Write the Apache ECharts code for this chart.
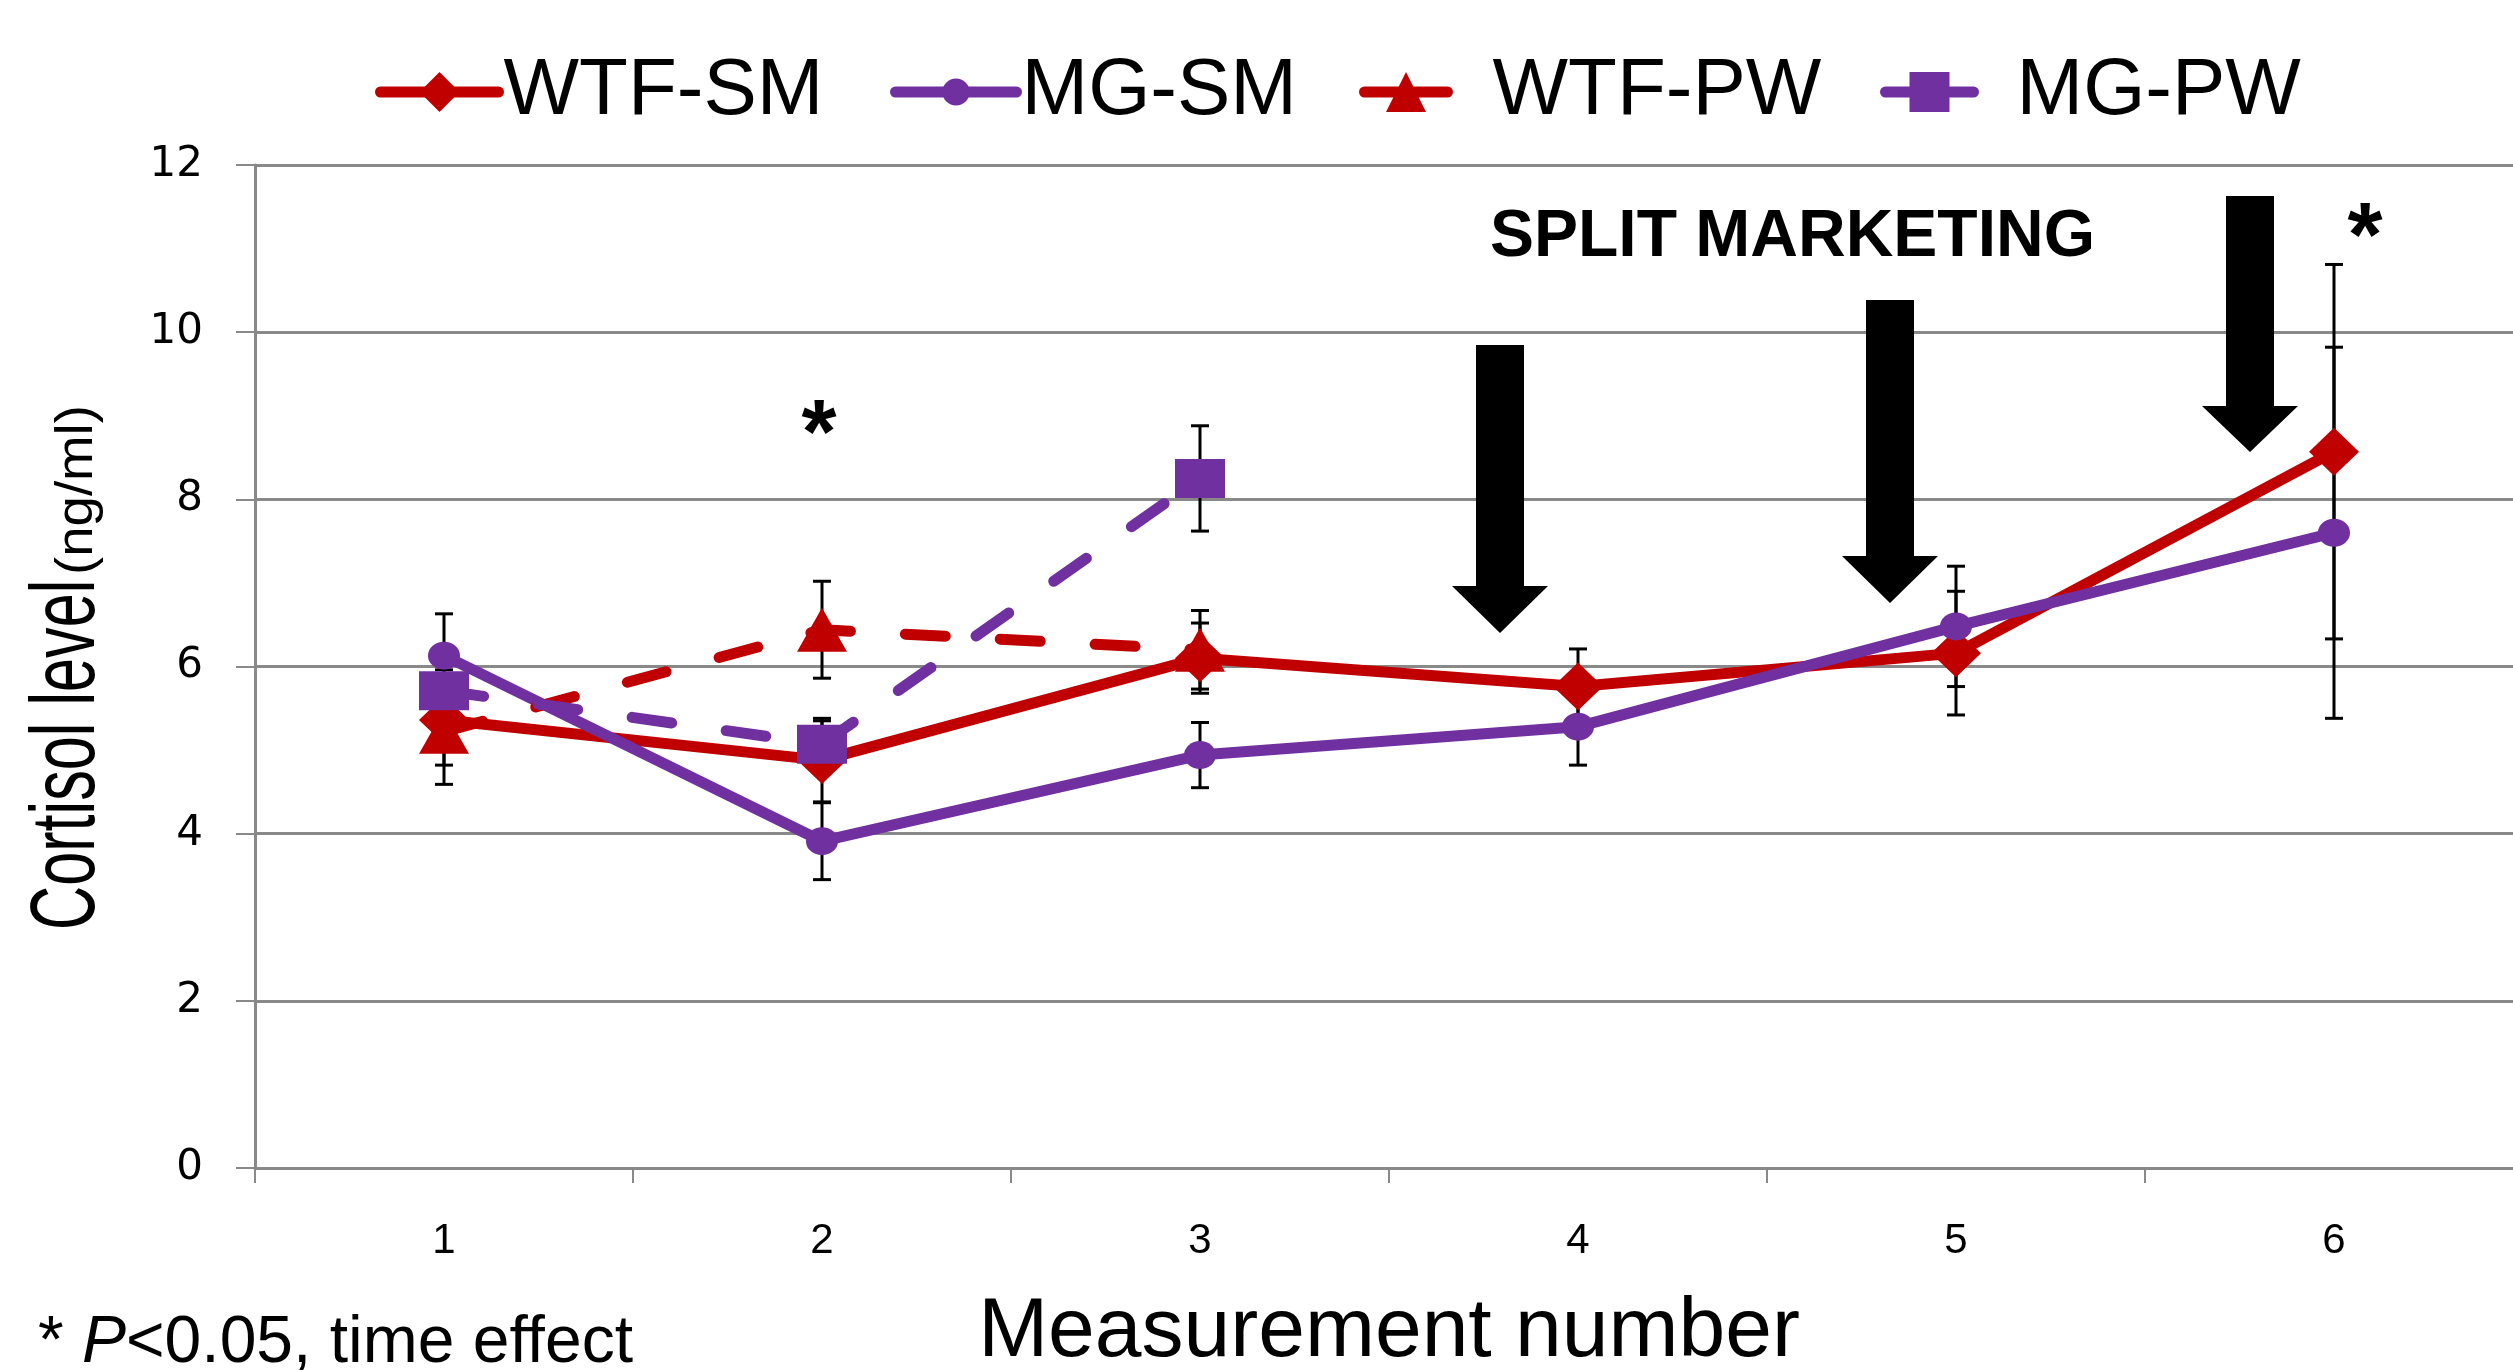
<!DOCTYPE html>
<html>
<head>
<meta charset="utf-8">
<script src="https://cdn.jsdelivr.net/npm/echarts@6/dist/echarts.min.js"></script>
<style>
html,body{margin:0;padding:0;background:#fff;}
#chart{width:2513px;height:1370px;}
</style>
</head>
<body>
<div id="chart"></div>
<script>
// ---- data ----
const categories = ['1', '2', '3', '4', '5', '6'];
const yTicks = [0, 2, 4, 6, 8, 10, 12];

const wtfSM = [5.36, 4.88, 6.10, 5.76, 6.16, 8.57];
const wtfSMErr = [0.54, 0.50, 0.42, 0.45, 0.74, 2.24];

const mgSM = [6.13, 3.91, 4.94, 5.28, 6.48, 7.60];
const mgSMErr = [0.50, 0.46, 0.39, 0.46, 0.72, 2.22];

const wtfPW = [5.22, 6.44, 6.20, null, null, null];
const wtfPWErr = [0.63, 0.58, 0.47, null, null, null];

const mgPW = [5.71, 5.07, 8.25, null, null, null];
const mgPWErr = [0.25, 0.28, 0.63, null, null, null];

const seriesNames = ['WTF-SM', 'MG-SM', 'WTF-PW', 'MG-PW'];
const xTitle = 'Measurement number';
const yTitle = ['Cortisol level', '(ng/ml)'];
const annotationText = 'SPLIT MARKETING';
const footnote = ['* ', 'P', '<0.05, time effect'];

// ---- styles ----
const RED = '#C00000';
const PURPLE = '#7030A0';
const GRID = '#898989';
const FONT = '"Liberation Sans", Arial, sans-serif';

function errData(mean, err) {
  const out = [];
  mean.forEach((m, i) => {
    if (m != null && err[i] != null) out.push([i, m - err[i], m + err[i]]);
  });
  return out;
}

function renderErr(params, api) {
  const x = api.value(0);
  const lo = api.coord([x, api.value(1)]);
  const hi = api.coord([x, api.value(2)]);
  const hw = 9;
  const st = { stroke: '#000', lineWidth: 3 };
  return {
    type: 'group',
    children: [
      { type: 'line', shape: { x1: lo[0], y1: lo[1], x2: hi[0], y2: hi[1] }, style: st },
      { type: 'line', shape: { x1: lo[0] - hw, y1: lo[1], x2: lo[0] + hw, y2: lo[1] }, style: st },
      { type: 'line', shape: { x1: hi[0] - hw, y1: hi[1], x2: hi[0] + hw, y2: hi[1] }, style: st }
    ]
  };
}

function errSeries(mean, err) {
  return {
    type: 'custom',
    renderItem: renderErr,
    data: errData(mean, err),
    encode: { x: 0, y: [1, 2] },
    z: 1,
    silent: true
  };
}

const dash = [40, 55];

function legendOf(name, left, itemWidth, itemHeight, textPad) {
  return {
    data: [name],
    left: left,
    top: 52,
    padding: 0,
    itemWidth: itemWidth,
    itemHeight: itemHeight,
    selectedMode: false,
    lineStyle: { type: 'solid', width: 11, cap: 'round' },
    textStyle: {
      fontFamily: FONT, fontSize: 80, color: '#000', lineHeight: 80,
      padding: [0, 0, 0, textPad]
    }
  };
}

// arrow annotations (pixel positions on the figure)
function arrow(cx, top, headTop, tip, shaftHalf, headHalf) {
  return {
    type: 'polygon',
    shape: {
      points: [
        [cx - shaftHalf, top], [cx + shaftHalf, top], [cx + shaftHalf, headTop],
        [cx + headHalf, headTop], [cx, tip], [cx - headHalf, headTop], [cx - shaftHalf, headTop]
      ]
    },
    style: { fill: '#000' },
    z: 10
  };
}

const chart = echarts.init(document.getElementById('chart'));
chart.setOption({
  animation: false,
  backgroundColor: '#fff',
  grid: { left: 255, width: 2268, top: 165, bottom: 202, containLabel: false, outerBoundsMode: 'none' },
  legend: [
    legendOf(seriesNames[0], 375, 118, 50, 0),
    legendOf(seriesNames[1], 890, 121, 34, 0),
    legendOf(seriesNames[2], 1359, 83, 50, 40),
    legendOf(seriesNames[3], 1880, 88, 50, 38)
  ],
  xAxis: {
    type: 'category',
    data: categories,
    boundaryGap: true,
    name: xTitle,
    nameLocation: 'middle',
    nameGap: 123,
    nameTextStyle: { fontFamily: FONT, fontSize: 84, color: '#000' },
    axisLine: { show: true, lineStyle: { color: GRID, width: 3 } },
    axisTick: { show: true, length: 15, interval: 0, lineStyle: { color: GRID, width: 2 } },
    axisLabel: { fontFamily: FONT, fontSize: 42, color: '#000', margin: 52 },
    splitLine: { show: false }
  },
  yAxis: {
    type: 'value',
    min: yTicks[0],
    max: yTicks[yTicks.length - 1],
    interval: 2,
    axisLine: { show: true, lineStyle: { color: GRID, width: 3 } },
    axisTick: { show: true, inside: false, length: 19, lineStyle: { color: GRID, width: 2 } },
    axisLabel: { fontFamily: '"DejaVu Sans", sans-serif', fontSize: 42, color: '#000', margin: 52 },
    splitLine: { show: true, lineStyle: { color: GRID, width: 3 } }
  },
  series: [
    errSeries(wtfSM, wtfSMErr),
    errSeries(mgSM, mgSMErr),
    errSeries(wtfPW, wtfPWErr),
    errSeries(mgPW, mgPWErr),
    {
      name: seriesNames[0], type: 'line', data: wtfSM, z: 3,
      symbol: 'diamond', symbolSize: [50, 48], showSymbol: true,
      itemStyle: { color: RED }, lineStyle: { color: RED, width: 11 }
    },
    {
      name: seriesNames[1], type: 'line', data: mgSM, z: 4,
      symbol: 'circle', symbolSize: [32, 28], showSymbol: true,
      itemStyle: { color: PURPLE }, lineStyle: { color: PURPLE, width: 11 }
    },
    {
      name: seriesNames[2], type: 'line', data: wtfPW, z: 5,
      symbol: 'triangle', symbolSize: [50, 44], showSymbol: true,
      itemStyle: { color: RED }, lineStyle: { color: RED, width: 11, type: dash, cap: 'round' }
    },
    {
      name: seriesNames[3], type: 'line', data: mgPW, z: 6,
      symbol: 'rect', symbolSize: [50, 39], showSymbol: true,
      itemStyle: { color: PURPLE }, lineStyle: { color: PURPLE, width: 11, type: dash, cap: 'round' }
    }
  ],
  graphic: [
    arrow(1500, 345, 586, 633, 24, 48),
    arrow(1890, 300, 556, 603, 24, 48),
    arrow(2250, 196, 406, 452, 24, 48),
    {
      type: 'text', left: 1490, top: 205, z: 10,
      style: { text: annotationText, font: 'bold 66px "Liberation Sans", Arial, sans-serif', fill: '#000' }
    },
    {
      type: 'text', x: 819, y: 438, z: 10,
      style: { text: '*', font: 'bold 90px "Liberation Sans", Arial, sans-serif', fill: '#000', textAlign: 'center', textVerticalAlign: 'middle' }
    },
    {
      type: 'text', x: 2365, y: 241, z: 10,
      style: { text: '*', font: 'bold 90px "Liberation Sans", Arial, sans-serif', fill: '#000', textAlign: 'center', textVerticalAlign: 'middle' }
    },
    // y-axis title (condensed, rotated)
    {
      type: 'text', x: 114, y: 930, rotation: Math.PI / 2, scaleX: 0.68, z: 10,
      style: { text: yTitle[0], font: '90px "Liberation Sans", Arial, sans-serif', fill: '#000', textAlign: 'left', textVerticalAlign: 'bottom' }
    },
    {
      type: 'text', x: 104, y: 575, rotation: Math.PI / 2, scaleX: 1.05, z: 10,
      style: { text: yTitle[1], font: '52px "Liberation Sans", Arial, sans-serif', fill: '#000', textAlign: 'left', textVerticalAlign: 'bottom' }
    },
    {
      type: 'text', x: 38, y: 1344, z: 10,
      style: {
        text: '{n|' + footnote[0] + '}{i|' + footnote[1] + '}{n|' + footnote[2] + '}',
        textVerticalAlign: 'middle',
        rich: {
          n: { fontFamily: FONT, fontSize: 66, fill: '#000' },
          i: { fontFamily: FONT, fontSize: 66, fontStyle: 'italic', fill: '#000' }
        }
      }
    }
  ]
});
</script>
</body>
</html>
